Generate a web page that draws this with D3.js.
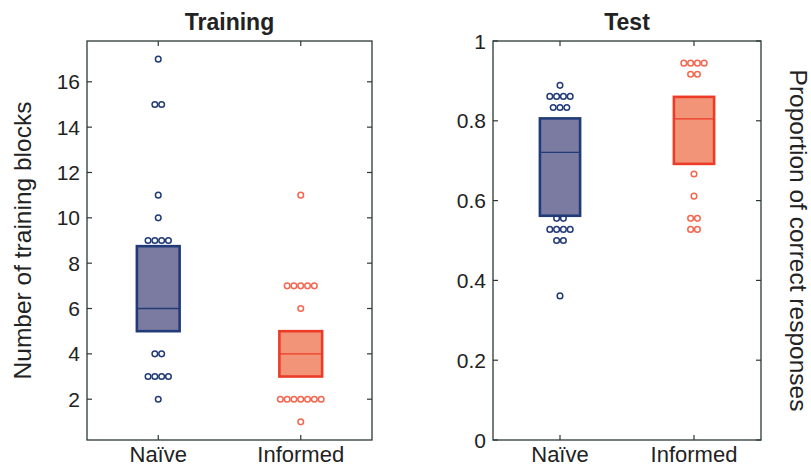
<!DOCTYPE html>
<html>
<head>
<meta charset="utf-8">
<script src="https://cdn.jsdelivr.net/npm/d3@7"></script>
<style>
  html, body { margin: 0; padding: 0; background: #ffffff; }
  svg { display: block; }
  text { font-family: "Liberation Sans", Arial, Helvetica, sans-serif; fill: #222; }
</style>
</head>
<body>
<svg id="chart" width="811" height="466"></svg>
<script>
// ---- data ----
const categories = ["Naïve", "Informed"];
const panelTitles = ["Training", "Test"];
const yLabels = ["Number of training blocks", "Proportion of correct responses"];

// Training: number of training blocks, individual points
const trainingNaive = [17, 15, 15, 11, 10, 9, 9, 9, 9, 4, 4, 3, 3, 3, 3, 2];
const trainingInformed = [11, 7, 7, 7, 7, 7, 6, 2, 2, 2, 2, 2, 2, 2, 1];
// Training box stats [q1, median, q3]
const trainingBoxNaive = [5, 6, 8.75];
const trainingBoxInformed = [3, 4, 5];

// Test: proportion correct, individual points
const testNaive = [32/36, 31/36, 31/36, 31/36, 31/36, 30/36, 30/36, 30/36,
                   20/36, 20/36, 19/36, 19/36, 19/36, 19/36, 18/36, 18/36, 13/36];
const testInformed = [34/36, 34/36, 34/36, 34/36, 33/36, 33/36, 24/36, 22/36,
                      20/36, 20/36, 19/36, 19/36];
const testBoxNaive = [0.562, 0.721, 0.806];
const testBoxInformed = [0.692, 0.805, 0.860];

const trainingTicks = [2, 4, 6, 8, 10, 12, 14, 16];
const testTicks = [0, 0.2, 0.4, 0.6, 0.8, 1];

// ---- styles ----
const colors = {
  naive: { stroke: "#213a78", fill: "#7b7aa0", point: "#213a78" },
  informed: { stroke: "#ec3b27", fill: "#f29478", point: "#f4664f" }
};
const frameColor = "#2b3838";

const svg = d3.select("#chart");

const panels = [
  {
    x0: 87, x1: 372, y0: 41, y1: 440,
    domain: [0.2, 17.8], ticks: trainingTicks,
    points: [trainingNaive, trainingInformed],
    boxes: [trainingBoxNaive, trainingBoxInformed],
    title: panelTitles[0], ylabel: yLabels[0], labelSide: "left",
    fmt: d3.format("d")
  },
  {
    x0: 493, x1: 761, y0: 41, y1: 440,
    domain: [0, 1], ticks: testTicks,
    points: [testNaive, testInformed],
    boxes: [testBoxNaive, testBoxInformed],
    title: panelTitles[1], ylabel: yLabels[1], labelSide: "right",
    fmt: d3.format("~g")
  }
];

const groupKeys = ["naive", "informed"];

panels.forEach(p => {
  const x = d3.scaleLinear().domain([0.5, 2.5]).range([p.x0, p.x1]);
  const y = d3.scaleLinear().domain(p.domain).range([p.y1, p.y0]);
  const g = svg.append("g");

  // boxes
  p.boxes.forEach((b, i) => {
    const c = colors[groupKeys[i]];
    const cx = i + 1;
    const bw = 0.15;
    g.append("rect")
      .attr("x", x(cx - bw))
      .attr("y", y(b[2]))
      .attr("width", x(cx + bw) - x(cx - bw))
      .attr("height", y(b[0]) - y(b[2]))
      .attr("fill", c.fill)
      .attr("stroke", c.stroke)
      .attr("stroke-width", 2.6);
    g.append("line")
      .attr("x1", x(cx - bw)).attr("x2", x(cx + bw))
      .attr("y1", y(b[1])).attr("y2", y(b[1]))
      .attr("stroke", c.stroke)
      .attr("stroke-width", 1.3);
  });

  // points (swarm within equal-value groups)
  p.points.forEach((vals, i) => {
    const c = colors[groupKeys[i]];
    const cx = i + 1;
    const groups = d3.groups(vals, v => v.toFixed(4));
    const spacing = 6.8;
    groups.forEach(([key, arr]) => {
      const n = arr.length;
      arr.forEach((v, k) => {
        g.append("circle")
          .attr("cx", x(cx) + (k - (n - 1) / 2) * spacing)
          .attr("cy", y(v))
          .attr("r", 2.8)
          .attr("fill", "none")
          .attr("stroke", c.point)
          .attr("stroke-width", 1.5);
      });
    });
  });

  // frame
  g.append("rect")
    .attr("x", p.x0).attr("y", p.y0)
    .attr("width", p.x1 - p.x0).attr("height", p.y1 - p.y0)
    .attr("fill", "none")
    .attr("stroke", frameColor)
    .attr("stroke-width", 1.3);

  // y ticks inward on both sides
  const tickLen = 5;
  p.ticks.forEach(t => {
    g.append("line")
      .attr("x1", p.x0).attr("x2", p.x0 + tickLen)
      .attr("y1", y(t)).attr("y2", y(t))
      .attr("stroke", frameColor).attr("stroke-width", 1.2);
    g.append("line")
      .attr("x1", p.x1).attr("x2", p.x1 - tickLen)
      .attr("y1", y(t)).attr("y2", y(t))
      .attr("stroke", frameColor).attr("stroke-width", 1.2);
    g.append("text")
      .attr("x", p.x0 - 7)
      .attr("y", y(t))
      .attr("dy", "0.36em")
      .attr("text-anchor", "end")
      .attr("font-size", 21)
      .text(p.fmt(t));
  });

  // x ticks inward top & bottom
  categories.forEach((cat, i) => {
    const cx = x(i + 1);
    g.append("line")
      .attr("x1", cx).attr("x2", cx)
      .attr("y1", p.y1).attr("y2", p.y1 - tickLen)
      .attr("stroke", frameColor).attr("stroke-width", 1.2);
    g.append("line")
      .attr("x1", cx).attr("x2", cx)
      .attr("y1", p.y0).attr("y2", p.y0 + tickLen)
      .attr("stroke", frameColor).attr("stroke-width", 1.2);
    g.append("text")
      .attr("x", cx)
      .attr("y", 462)
      .attr("text-anchor", "middle")
      .attr("font-size", 22)
      .text(cat);
  });

  // title
  g.append("text")
    .attr("x", (p.x0 + p.x1) / 2)
    .attr("y", 30)
    .attr("text-anchor", "middle")
    .attr("font-size", 23)
    .attr("font-weight", "bold")
    .attr("fill", "#111")
    .text(p.title);

  // y label
  const midY = 240.5;
  if (p.labelSide === "left") {
    g.append("text")
      .attr("transform", `translate(31,${midY}) rotate(-90)`)
      .attr("text-anchor", "middle")
      .attr("font-size", 24.5)
      .text(p.ylabel);
  } else {
    g.append("text")
      .attr("transform", `translate(790,${midY}) rotate(90)`)
      .attr("text-anchor", "middle")
      .attr("font-size", 24.5)
      .text(p.ylabel);
  }
});
</script>
</body>
</html>
